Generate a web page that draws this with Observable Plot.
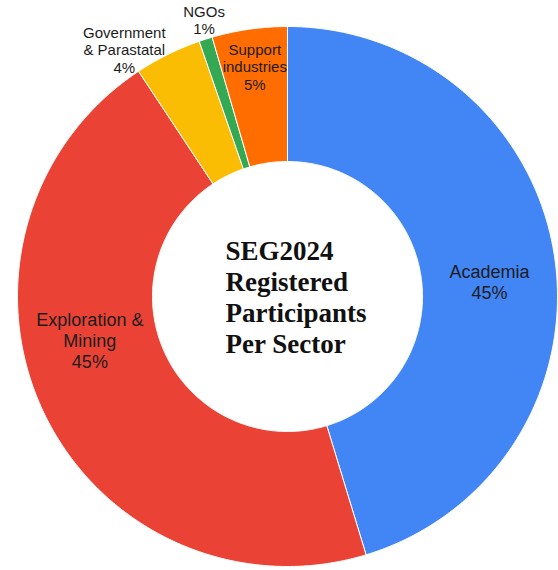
<!DOCTYPE html>
<html>
<head>
<meta charset="utf-8">
<script src="https://cdn.jsdelivr.net/npm/d3@7"></script>
<script src="https://cdn.jsdelivr.net/npm/@observablehq/plot@0.6"></script>
<style>
  html, body { margin: 0; padding: 0; background: #ffffff; }
  #chart svg { display: block; }
</style>
</head>
<body>
<div id="chart"></div>
<script>
// ---- Data ----
const sectors = ["Academia", "Exploration & Mining", "Government & Parastatal", "NGOs", "Support industries"];
const shares = [45.3, 45.4, 4.0, 0.8, 4.5];           // percent of registered participants
const labelLines = ["Academia", "Exploration &\nMining", "Government\n& Parastatal", "NGOs", "Support\nindustries"];
const colors = ["#4285F4", "#EA4335", "#FBBC04", "#34A853", "#FF6D01"];
const title = "SEG2024\nRegistered\nParticipants\nPer Sector";

// ---- Layout ----
const W = 558, H = 570;
const cx = 287, cy = 296, R = 270;      // px
const inner = 0.5;                      // hole ratio
const sansFamily = '"Liberation Sans", Arial, sans-serif';
const serifFamily = '"Liberation Serif", "Times New Roman", serif';

const ctx = document.createElement("canvas").getContext("2d");
function blockWidth(str, size, family, weight = "normal") {
  ctx.font = `${weight} ${size}px ${family}`;
  return Math.max(...str.split("\n").map(s => ctx.measureText(s).width));
}

const arcs = d3.pie().sort(null).value(d => d)(shares);
const pt = (r, a) => ({x: r * Math.sin(a), y: r * Math.cos(a)});

// slice outlines
const slicePts = [];
arcs.forEach((arc, i) => {
  const a0 = arc.startAngle, a1 = arc.endAngle;
  const n = Math.max(2, Math.ceil((a1 - a0) / (Math.PI / 360)));
  const ring = [];
  for (let k = 0; k <= n; k++) ring.push(pt(1, a0 + (a1 - a0) * k / n));
  for (let k = n; k >= 0; k--) ring.push(pt(inner, a0 + (a1 - a0) * k / n));
  ring.push(ring[0]);
  ring.forEach(p => slicePts.push({sector: sectors[i], x: p.x, y: p.y}));
});

// labels
const insideLabels = [], topLabels = [];
arcs.forEach((arc, i) => {
  const text = labelLines[i] + "\n" + Math.round(shares[i]) + "%";
  const big = shares[i] > 10;
  const size = big ? 18 : 15;
  const w = blockWidth(text, size, sansFamily);
  const mid = (arc.startAngle + arc.endAngle) / 2;
  const rIn = big ? 0.75 : 0.86;
  const fits = rIn * R * (arc.endAngle - arc.startAngle) >= w;
  if (fits) {
    const horiz = mid < Math.PI ? Math.PI / 2 : 3 * Math.PI / 2;
    const a = big ? (mid + horiz) / 2 : mid;
    const p = pt(rIn, a);
    insideLabels.push({text, size, x: p.x, y: p.y});
  } else {
    const p = pt(1.02, mid);
    const s = Math.sin(mid);
    if (Math.abs(s) < 0.35) {
      topLabels.push({text, size, x: p.x, y: p.y});
    } else {
      const shift = (w / 2) / R * Math.sign(s);
      insideLabels.push({text, size, x: p.x + shift, y: p.y});
    }
  }
});

const chart = Plot.plot({
  width: W,
  height: H,
  margin: 0,
  x: {domain: [-cx / R, (W - cx) / R], axis: null},
  y: {domain: [-(H - cy) / R, cy / R], axis: null},
  color: {domain: sectors, range: colors},
  style: {background: "#ffffff"},
  marks: [
    Plot.line(slicePts, {x: "x", y: "y", z: "sector", fill: "sector", stroke: "#ffffff", strokeWidth: 1, strokeLinejoin: "round", curve: "linear"}),
    Plot.text(insideLabels, {x: "x", y: "y", text: "text", fontSize: "size", fill: "#1c1c1c",
      fontFamily: sansFamily, textAnchor: "middle", lineAnchor: "middle", lineHeight: 1.17}),
    Plot.text(topLabels, {x: "x", y: "y", text: "text", fontSize: "size", fill: "#1c1c1c",
      fontFamily: sansFamily, textAnchor: "middle", lineAnchor: "bottom", lineHeight: 1.17}),
    Plot.text([title], {x: () => 0, y: () => 0, text: d => d, fontSize: 27, fontWeight: "bold",
      fontFamily: serifFamily, fill: "#111111", textAnchor: "start", lineAnchor: "middle", lineHeight: 1.15, dx: -62})
  ]
});
document.getElementById("chart").appendChild(chart);
</script>
</body>
</html>
